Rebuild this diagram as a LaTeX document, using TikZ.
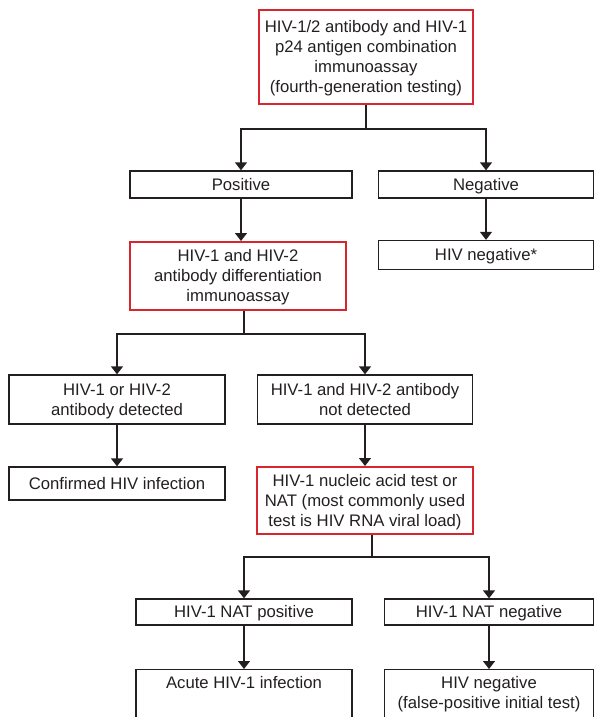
\documentclass[tikz,border=0pt]{standalone}
\usepackage{fontspec}
\setmainfont{Liberation Sans}
\usetikzlibrary{arrows.meta}
\definecolor{inchiostro}{HTML}{231F20}
\definecolor{rosso}{HTML}{D7262E}
\begin{document}
\begin{tikzpicture}[x=1pt,y=-1pt,font=\fontsize{16.7}{20}\selectfont,
    line width=1.3pt, color=inchiostro, text=inchiostro]

        % Area visibile (le ultime caselle sono tagliate in basso)
        \useasboundingbox (0,0) rectangle (595,717);
        \clip (0,0) rectangle (595,717);

        % Stili globali (righe = altezza del testo sopra l'ultima riga)
        \tikzstyle{casella}=[draw=inchiostro, align=center, inner sep=0pt, text height=12pt, text depth=1pt]
        \tikzstyle{righe}=[text height=#1]
        \tikzstyle{test}=[casella, draw=rosso, line width=2pt]
        \tikzstyle{esito}=[casella, anchor=north, inner ysep=7pt, text depth=60pt]
        \tikzstyle{freccia}=[-{Triangle[width=12pt,length=8pt]}]

        % Primo test
        \node[test, righe=72pt, minimum width=214, minimum height=94] (combo) at (366,57)
            {HIV-1/2 antibody and HIV-1\\p24 antigen combination\\immunoassay\\(fourth-generation testing)};

        % Risultati del primo test
        \node[casella, minimum width=222, minimum height=27] (pos) at (241,184.5) {Positive};
        \node[casella, minimum width=215, minimum height=27] (neg) at (486,184.5) {Negative};
        \node[casella, minimum width=215, minimum height=29] (hivneg) at (486,255) {HIV negative*};

        % Test di differenziazione
        \node[test, righe=52pt, minimum width=216, minimum height=68] (diff) at (238,276)
            {HIV-1 and HIV-2\\antibody differentiation\\immunoassay};

        % Risultati della differenziazione
        \node[casella, righe=32pt, minimum width=216, minimum height=49] (det) at (117,399.5)
            {HIV-1 or HIV-2\\antibody detected};
        \node[casella, righe=32pt, minimum width=215, minimum height=49] (nodet) at (365,399.5)
            {HIV-1 and HIV-2 antibody\\not detected};
        \node[casella, minimum width=216, minimum height=33] (conf) at (117,483.5)
            {Confirmed HIV infection};

        % Test NAT
        \node[test, righe=52pt, minimum width=216, minimum height=67] (nat) at (365,500.5)
            {HIV-1 nucleic acid test or\\NAT (most commonly used\\test is HIV RNA viral load)};

        % Risultati NAT
        \node[casella, minimum width=216, minimum height=26] (natpos) at (244,612) {HIV-1 NAT positive};
        \node[casella, minimum width=209, minimum height=26] (natneg) at (489,612) {HIV-1 NAT negative};
        \node[esito, minimum width=216] (acute) at (244,669) {Acute HIV-1 infection};
        \node[esito, righe=32pt, minimum width=209] (falsopos) at (489,669)
            {HIV negative\\(false-positive initial test)};

        % Collegamenti
        \draw (combo.south) -- ++(0,24) coordinate (nodo1);
        \draw[freccia] (nodo1) -| (pos.north);
        \draw[freccia] (nodo1) -| (neg.north);
        \draw[freccia] (pos.south) -- (pos.south |- diff.north);
        \draw[freccia] (neg.south) -- (hivneg.north);

        \draw ([xshift=6]diff.south) -- ++(0,23) coordinate (nodo2);
        \draw[freccia] (nodo2) -| (det.north);
        \draw[freccia] (nodo2) -| (nodet.north);
        \draw[freccia] (det.south) -- (conf.north);
        \draw[freccia] (nodet.south) -- (nat.north);

        \draw ([xshift=7]nat.south) -- ++(0,22) coordinate (nodo3);
        \draw[freccia] (nodo3) -| (natpos.north);
        \draw[freccia] (nodo3) -| (natneg.north);
        \draw[freccia] (natpos.south) -- (acute.north);
        \draw[freccia] (natneg.south) -- (falsopos.north);

    \end{tikzpicture}
\end{document}
